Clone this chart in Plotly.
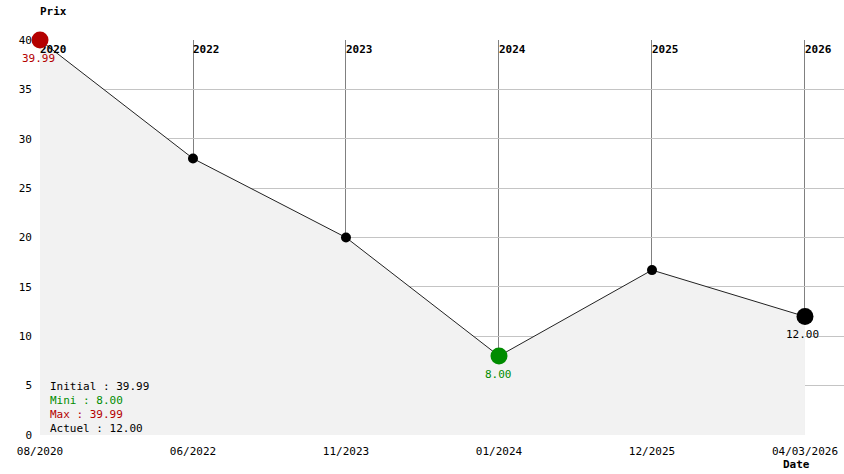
import plotly.graph_objects as go

dates = ["08/2020", "06/2022", "11/2023", "01/2024", "12/2025", "04/03/2026"]
years = ["2020", "2022", "2023", "2024", "2025", "2026"]
prices = [39.99, 28.0, 20.0, 8.0, 16.7, 12.0]

RED = "#b40000"
GREEN = "#008c00"
FONT = "DejaVu Sans Mono"

i_min = prices.index(min(prices))
i_max = prices.index(max(prices))
i_last = len(prices) - 1

fig = go.Figure()

# filled area + line
fig.add_trace(go.Scatter(
    x=dates, y=prices, mode="lines", fill="tozeroy",
    fillcolor="#f2f2f2", line=dict(color="#222222", width=1),
    hoverinfo="skip", showlegend=False))

# year labels at top (drawn below markers)
fig.add_trace(go.Scatter(
    x=dates, y=[39.0] * len(dates), mode="text", text=years,
    textposition="middle right",
    textfont=dict(family=FONT, size=11, color="black", weight="bold"),
    cliponaxis=False, hoverinfo="skip", showlegend=False))

# small markers
small = [i for i in range(len(prices)) if i not in (i_min, i_max, i_last)]
fig.add_trace(go.Scatter(
    x=[dates[i] for i in small], y=[prices[i] for i in small], mode="markers",
    marker=dict(color="black", size=10), cliponaxis=False,
    hoverinfo="skip", showlegend=False))

# special markers
fig.add_trace(go.Scatter(
    x=[dates[i_max], dates[i_min], dates[i_last]],
    y=[prices[i_max], prices[i_min], prices[i_last]], mode="markers",
    marker=dict(color=[RED, GREEN, "black"], size=17), cliponaxis=False,
    hoverinfo="skip", showlegend=False))

ann = []
# value labels
ann.append(dict(x=dates[i_max], y=prices[i_max], text=f"{prices[i_max]:.2f}",
                showarrow=False, yshift=-18, xshift=-2,
                font=dict(family=FONT, size=11, color=RED)))
ann.append(dict(x=dates[i_min], y=prices[i_min], text=f"{prices[i_min]:.2f}",
                showarrow=False, yshift=-18,
                font=dict(family=FONT, size=11, color=GREEN)))
ann.append(dict(x=dates[i_last], y=prices[i_last], text=f"{prices[i_last]:.2f}",
                showarrow=False, yshift=-18, xshift=-2,
                font=dict(family=FONT, size=11, color="black")))

# stats
stats = [
    (f"Initial : {prices[0]:.2f}", "black", 0.1266),
    (f"Mini : {prices[i_min]:.2f}", GREEN, 0.0911),
    (f"Max : {prices[i_max]:.2f}", RED, 0.0557),
    (f"Actuel : {prices[i_last]:.2f}", "black", 0.0203),
]
for txt, col, yy in stats:
    ann.append(dict(xref="paper", yref="paper", x=0.0099, y=yy - 0.003, text=txt,
                    xanchor="left", yanchor="middle", showarrow=False,
                    font=dict(family=FONT, size=11, color=col)))

# axis titles
ann.append(dict(xref="paper", yref="paper", x=-0.002, y=1.071, text="<b>Prix</b>",
                xanchor="left", yanchor="middle", showarrow=False,
                font=dict(family=FONT, size=11, color="black")))
ann.append(dict(xref="paper", yref="paper", x=0.9415, y=-0.0735, text="<b>Date</b>",
                xanchor="center", yanchor="middle", showarrow=False,
                font=dict(family=FONT, size=11, color="black")))

fig.update_layout(
    width=844, height=474,
    margin=dict(l=40, r=0, t=40, b=39, autoexpand=False),
    paper_bgcolor="white", plot_bgcolor="white",
    font=dict(family=FONT, size=11, color="black"),
    annotations=ann,
    xaxis=dict(type="category", range=[0, 5.255], showgrid=True,
               gridcolor="#808080", gridwidth=1, zeroline=False,
               showline=False, ticks="", automargin=False,
               ticklabelstandoff=8,
               tickfont=dict(family=FONT, size=11)),
    yaxis=dict(range=[0, 40], dtick=5, showgrid=True, gridcolor="#c4c4c4",
               gridwidth=1, zeroline=False, showline=False, ticks="",
               automargin=False, ticklabelstandoff=7,
               tickfont=dict(family=FONT, size=11)),
)

fig.write_html("out.html", config={"displayModeBar": False},
               post_script="document.body.style.margin='0';document.body.style.overflow='hidden';")
